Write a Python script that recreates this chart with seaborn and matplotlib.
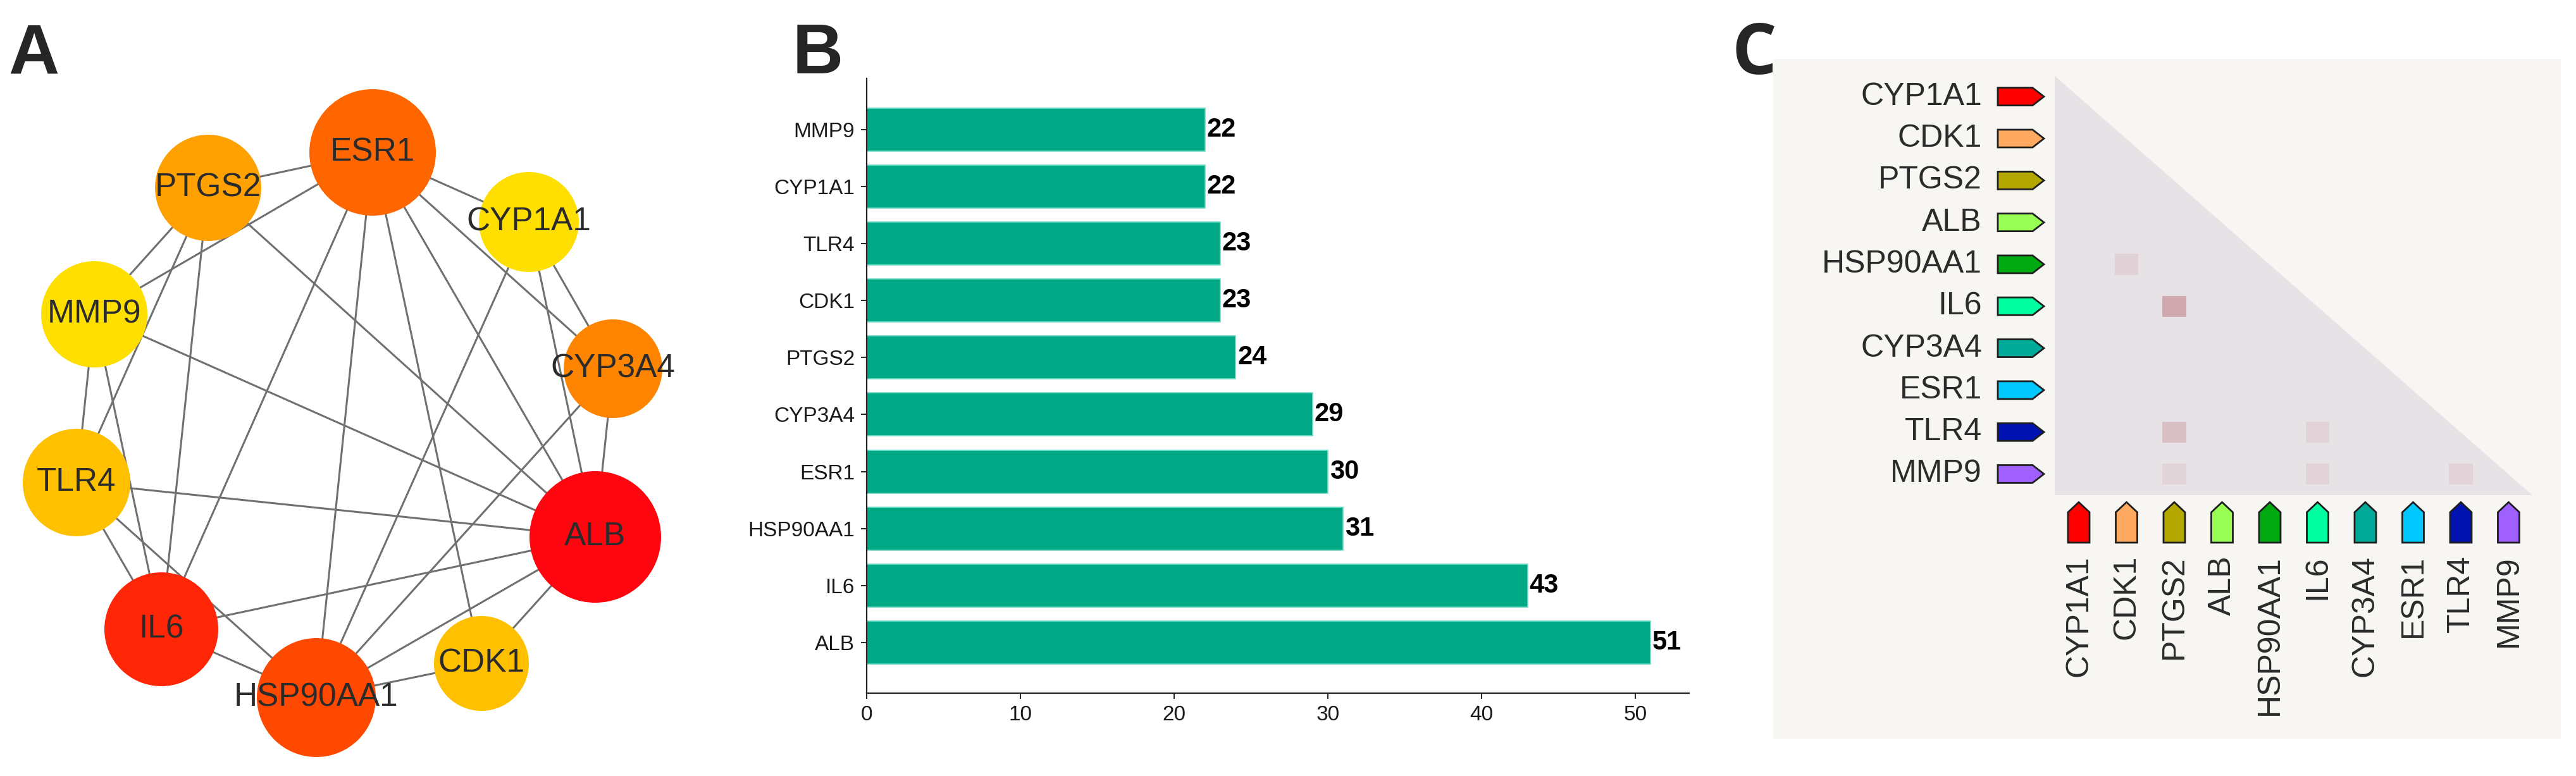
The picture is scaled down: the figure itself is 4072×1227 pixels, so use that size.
import numpy as np
import pandas as pd
import matplotlib
matplotlib.use("Agg")
import matplotlib.pyplot as plt
import seaborn as sns
from matplotlib.patches import Circle, Polygon, Rectangle
from matplotlib.colors import LinearSegmentedColormap

# ---------------- data ----------------
# Panel A: PPI network of hub genes
hub_genes = ["ALB", "IL6", "HSP90AA1", "ESR1", "CYP3A4", "PTGS2", "CDK1", "TLR4", "CYP1A1", "MMP9"]
hub_degree = [51, 43, 31, 30, 29, 24, 23, 23, 22, 22]
ppi_edges = [
    ("ESR1", "PTGS2"), ("ESR1", "MMP9"), ("ESR1", "CYP1A1"), ("ESR1", "CYP3A4"),
    ("ESR1", "ALB"), ("ESR1", "CDK1"), ("ESR1", "HSP90AA1"), ("ESR1", "IL6"),
    ("PTGS2", "MMP9"), ("PTGS2", "TLR4"), ("PTGS2", "IL6"), ("PTGS2", "ALB"),
    ("CYP1A1", "CYP3A4"), ("CYP1A1", "ALB"), ("CYP1A1", "HSP90AA1"),
    ("MMP9", "ALB"), ("MMP9", "TLR4"), ("MMP9", "IL6"),
    ("CYP3A4", "ALB"), ("CYP3A4", "HSP90AA1"),
    ("TLR4", "ALB"), ("TLR4", "IL6"), ("TLR4", "HSP90AA1"),
    ("ALB", "IL6"), ("ALB", "HSP90AA1"), ("ALB", "CDK1"),
    ("IL6", "HSP90AA1"), ("HSP90AA1", "CDK1"),
]

# Panel B: degree bar chart
bar_genes = ["MMP9", "CYP1A1", "TLR4", "CDK1", "PTGS2", "CYP3A4", "ESR1", "HSP90AA1", "IL6", "ALB"]
bar_values = [22, 22, 23, 23, 24, 29, 30, 31, 43, 51]
bar_ticks = [0, 10, 20, 30, 40, 50]

# Panel C: pairwise matrix (lower triangle)
ld_genes = ["CYP1A1", "CDK1", "PTGS2", "ALB", "HSP90AA1", "IL6", "CYP3A4", "ESR1", "TLR4", "MMP9"]
ld_row = ["HSP90AA1", "IL6", "TLR4", "TLR4", "MMP9", "MMP9", "MMP9"]
ld_col = ["CDK1", "PTGS2", "PTGS2", "IL6", "PTGS2", "IL6", "TLR4"]
ld_value = [0.13, 0.45, 0.27, 0.12, 0.11, 0.12, 0.12]

# ---------------- layout & styles ----------------
node_layout = {  # pixel layout of the network drawing
    "ESR1": (589, 241), "PTGS2": (329, 297), "CYP1A1": (836, 351), "MMP9": (149, 497),
    "CYP3A4": (969, 583), "TLR4": (121, 763), "ALB": (941, 849), "IL6": (255, 995),
    "HSP90AA1": (500, 1103), "CDK1": (761, 1049),
}
node_radius = {"ESR1": 100, "PTGS2": 84, "CYP1A1": 79, "MMP9": 84, "CYP3A4": 78,
               "TLR4": 85, "ALB": 104, "IL6": 90, "HSP90AA1": 94, "CDK1": 75}
node_color = {"ESR1": "#FF6600", "PTGS2": "#FFA100", "CYP1A1": "#FFDF00", "MMP9": "#FFDF00",
              "CYP3A4": "#FF8400", "TLR4": "#FFC000", "ALB": "#FF0510", "IL6": "#FF2608",
              "HSP90AA1": "#FF4800", "CDK1": "#FFC000"}
ld_colors = ["#FF0000", "#FFAA60", "#B4A800", "#99FF55", "#00AA10",
             "#00FFA0", "#00AA99", "#00C8FF", "#0012B0", "#A060FF"]

sns.set_style("white")
plt.rcParams["font.family"] = ["Liberation Sans", "DejaVu Sans"]

W, H = 4072, 1227
fig = plt.figure(figsize=(W / 100, H / 100), dpi=100)
fig.patch.set_facecolor("white")


def fbox(l, t, r, b):
    return [l / W, 1 - b / H, (r - l) / W, (b - t) / H]


# ---------------- Panel A ----------------
axa = fig.add_axes(fbox(0, 0, 1200, H))
axa.set_xlim(0, 1200)
axa.set_ylim(H, 0)
axa.axis("off")
for a, b in ppi_edges:
    (x1, y1), (x2, y2) = node_layout[a], node_layout[b]
    axa.plot([x1, x2], [y1, y2], color="#707070", lw=2.2, zorder=1, solid_capstyle="butt")
for g, d in zip(hub_genes, hub_degree):
    x, y = node_layout[g]
    axa.add_patch(Circle((x, y), node_radius[g], fc=node_color[g], ec="none", zorder=2))
    axa.text(x, y, g, ha="center", va="center", fontsize=37, color="#2b2b2b", zorder=3)

# ---------------- Panel B ----------------
axb = fig.add_axes(fbox(1370, 124, 2670, 1096))
df = pd.DataFrame({"gene": bar_genes, "degree": bar_values})
sns.barplot(data=df, x="degree", y="gene", order=bar_genes, orient="h", color="#00A886",
            saturation=1, width=0.755, edgecolor="#70DEC8", linewidth=1.2, ax=axb)
for i, v in enumerate(bar_values):
    axb.text(v + 0.12, i, f"{v}", ha="left", va="center", fontsize=30,
             fontweight="bold", color="black")
axb.set_xlim(0, 53.5)
axb.set_ylim(9.89, -0.9)
axb.set_xticks(bar_ticks)
axb.set_xlabel("")
axb.set_ylabel("")
for s in ["top", "right"]:
    axb.spines[s].set_visible(False)
for s in ["left", "bottom"]:
    axb.spines[s].set_color("#222222")
    axb.spines[s].set_linewidth(1.6)
axb.tick_params(axis="both", which="major", length=6.5, width=1.4, color="#222222",
                labelsize=24, labelcolor="#1a1a1a", pad=7, left=True, bottom=True)
axb.set_facecolor("none")

# ---------------- Panel C ----------------
fig.add_artist(Rectangle((2803 / W, 1 - 1168 / H), (4048 - 2803) / W, (1168 - 93) / H,
                         transform=fig.transFigure, fc="#F8F6F3", ec="none", zorder=-10))
cx0, cpx = 3286, 75.5
cy0, cpy = 152.75, 66.3
axc = fig.add_axes(fbox(cx0 - cpx / 2, cy0 - cpy / 2, cx0 + 9.5 * cpx, cy0 + 9.5 * cpy))
axc.set_xlim(-0.5, 9.5)
axc.set_ylim(9.5, -0.5)
axc.axis("off")
n = len(ld_genes)
axc.add_patch(Polygon([(-0.5, -0.5), (-0.5, n - 0.5), (n - 0.5, n - 0.5)],
                      closed=True, fc="#E7E2E6", ec="none", zorder=1))
ld_cmap = LinearSegmentedColormap.from_list("ld", ["#E7E2E6", "#B4636C"])
for r, c, v in zip(ld_row, ld_col, ld_value):
    ri, ci = ld_genes.index(r), ld_genes.index(c)
    axc.add_patch(Rectangle((ci - 0.25, ri - 0.25), 0.5, 0.5, fc=ld_cmap(v), ec="none", zorder=2))


def dx(px):
    return (px - cx0) / cpx


def dy(py):
    return (py - cy0) / cpy


hh = 14 / cpy
L, S, T = dx(3158), dx(3213), dx(3231)
hw = 17 / cpx
tip, sh, bot = dy(794), dy(810), dy(858)
for i, (g, col) in enumerate(zip(ld_genes, ld_colors)):
    axc.add_patch(Polygon([(L, i - hh), (S, i - hh), (T, i), (S, i + hh), (L, i + hh)],
                          closed=True, fc=col, ec="#1e1e1e", lw=2, joinstyle="miter",
                          clip_on=False, zorder=3))
    axc.text(dx(3133), i, g, ha="right", va="center", fontsize=36, color="#2b2b2b",
             clip_on=False)
    axc.add_patch(Polygon([(i - hw, bot), (i - hw, sh), (i, tip), (i + hw, sh), (i + hw, bot)],
                          closed=True, fc=col, ec="#1e1e1e", lw=2, joinstyle="miter",
                          clip_on=False, zorder=3))
    axc.text(i, dy(878), g, ha="center", va="top", rotation=90, fontsize=36,
             color="#2b2b2b", clip_on=False)

# ---------------- panel letters ----------------
fig.text(13 / W, 1 - 117 / H, "A", fontsize=80, fontweight="bold", va="baseline", ha="left")
fig.text(1253 / W, 1 - 116 / H, "B", fontsize=80, fontweight="bold", va="baseline", ha="left")
fig.text(2738 / W, 1 - 117 / H, "C", fontsize=80, fontweight="bold", va="baseline", ha="left",
         family=["Open Sans", "DejaVu Sans"])

fig.savefig("out.png", dpi=100, facecolor="white")
